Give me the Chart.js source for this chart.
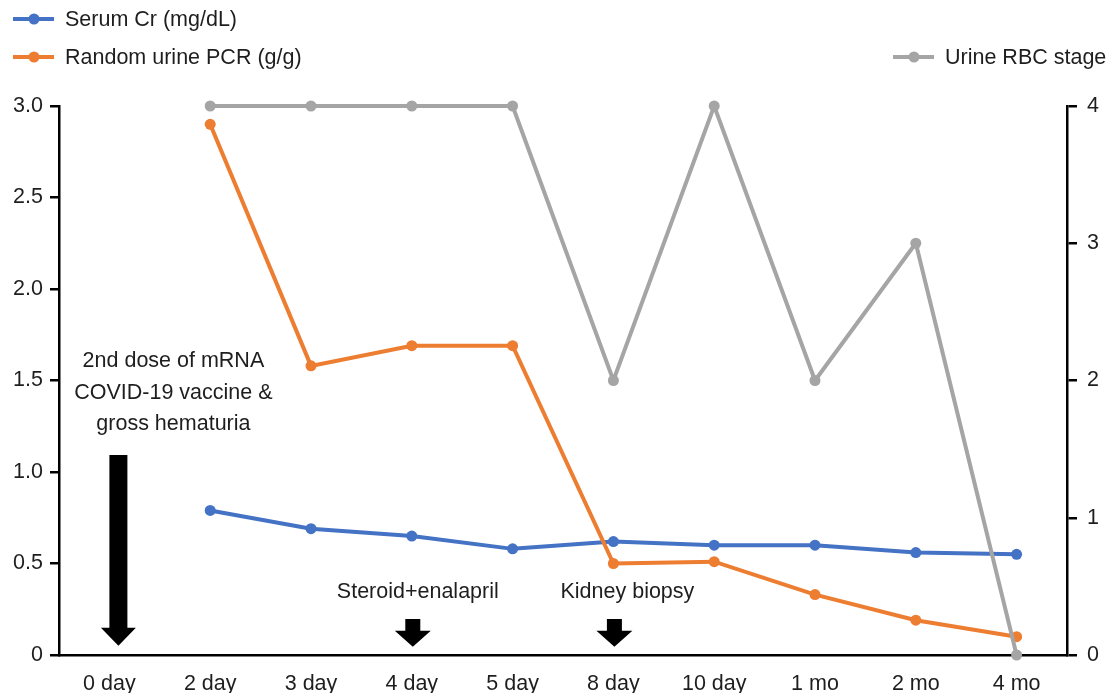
<!DOCTYPE html>
<html>
<head>
<meta charset="utf-8">
<script src="https://cdn.jsdelivr.net/npm/chart.js@4"></script>
<style>
  html, body { margin: 0; padding: 0; background: #fff; }
  #wrap { width: 1107px; height: 693px; }
</style>
</head>
<body>
<div id="wrap"><canvas id="chart"></canvas></div>
<script>
// Data
const categories = ['0 day', '2 day', '3 day', '4 day', '5 day', '8 day', '10 day', '1 mo', '2 mo', '4 mo'];
const serumCr = [null, 0.79, 0.69, 0.65, 0.58, 0.62, 0.60, 0.60, 0.56, 0.55];
const urinePcr = [null, 2.90, 1.58, 1.69, 1.69, 0.50, 0.51, 0.33, 0.19, 0.10];
const urineRbc = [null, 4, 4, 4, 4, 2, 4, 2, 3, 0];
const leftTicks = [0, 0.5, 1.0, 1.5, 2.0, 2.5, 3.0];
const rightTicks = [0, 1, 2, 3, 4];

const FONT = 'Liberation Sans, Arial, sans-serif';
const TEXT = '#1e1e1e';
const BLUE = '#4472C4', ORANGE = '#ED7D31', GRAY = '#A5A5A5';

// Events drawn as arrows under the x axis
const events = [
    { cat: 0, big: true, lines: ['2nd dose of mRNA', 'COVID-19 vaccine &', 'gross hematuria'] },
    { cat: 3, big: false, lines: ['Steroid+enalapril'] },
    { cat: 5, big: false, lines: ['Kidney biopsy'] }
];

function drawArrow(ctx, cx, top, tip, shaftW, headW, headH) {
    ctx.beginPath();
    ctx.moveTo(cx - shaftW / 2, top);
    ctx.lineTo(cx + shaftW / 2, top);
    ctx.lineTo(cx + shaftW / 2, tip - headH);
    ctx.lineTo(cx + headW / 2, tip - headH);
    ctx.lineTo(cx, tip);
    ctx.lineTo(cx - headW / 2, tip - headH);
    ctx.lineTo(cx - shaftW / 2, tip - headH);
    ctx.closePath();
    ctx.fill();
}

const annotations = {
    id: 'annotations',
    afterDraw(chart) {
        const ctx = chart.ctx;
        const x = chart.scales.x;
        const y = chart.scales.y;
        ctx.save();
        ctx.font = `21.5px ${FONT}`;
        ctx.textAlign = 'center';
        ctx.textBaseline = 'middle';
        events.forEach(ev => {
            const cx = x.getPixelForValue(ev.cat);
            ctx.fillStyle = '#000';
            if (ev.big) {
                drawArrow(ctx, cx + 9, y.getPixelForValue(1.093), y.getPixelForValue(0.05), 18, 35, 18);
                ctx.fillStyle = TEXT;
                ev.lines.forEach((l, i) => {
                    ctx.fillText(l, cx + 64, y.getPixelForValue(1.606) + i * 31.5);
                });
            } else {
                drawArrow(ctx, cx + 1, y.getPixelForValue(0.197), y.getPixelForValue(0.045), 15, 36, 16);
                ctx.fillStyle = TEXT;
                ctx.fillText(ev.lines[0], cx + 6 + (ev.cat === 5 ? 8 : 0), y.getPixelForValue(0.345));
            }
        });

        // Legend
        const legend = [
            { label: 'Serum Cr (mg/dL)', color: BLUE, x: 13, y: 19 },
            { label: 'Random urine PCR (g/g)', color: ORANGE, x: 13, y: 57 },
            { label: 'Urine RBC stage', color: GRAY, x: 893, y: 57 }
        ];
        ctx.textAlign = 'left';
        legend.forEach(item => {
            ctx.strokeStyle = item.color;
            ctx.fillStyle = item.color;
            ctx.lineWidth = 4;
            ctx.beginPath();
            ctx.moveTo(item.x, item.y);
            ctx.lineTo(item.x + 41, item.y);
            ctx.stroke();
            ctx.beginPath();
            ctx.arc(item.x + 21, item.y, 5.5, 0, Math.PI * 2);
            ctx.fill();
            ctx.fillStyle = TEXT;
            ctx.fillText(item.label, item.x + 52, item.y + 1);
        });
        ctx.restore();
    }
};

function series(label, data, color, axis, order) {
    return {
        label, data, yAxisID: axis, order,
        borderColor: color, backgroundColor: color,
        borderWidth: 4, pointRadius: 5.5, pointHoverRadius: 5.5,
        pointBorderWidth: 0, tension: 0, clip: false, spanGaps: true
    };
}

new Chart(document.getElementById('chart'), {
    type: 'line',
    data: {
        labels: categories,
        datasets: [
            series('Serum Cr (mg/dL)', serumCr, BLUE, 'y', 3),
            series('Random urine PCR (g/g)', urinePcr, ORANGE, 'y', 2),
            series('Urine RBC stage', urineRbc, GRAY, 'y1', 1)
        ]
    },
    options: {
        responsive: true,
        maintainAspectRatio: false,
        animation: false,
        layout: { padding: { top: 106, left: 0, right: 0, bottom: 0 } },
        plugins: { legend: { display: false }, tooltip: { enabled: false } },
        scales: {
            x: {
                offset: true,
                grid: { display: false },
                border: { display: true, color: '#000', width: 2.5 },
                ticks: { color: TEXT, font: { family: FONT, size: 21.5 }, padding: 8, maxRotation: 0 },
                afterFit: s => { s.height = 38; }
            },
            y: {
                position: 'left',
                min: 0, max: 3,
                afterBuildTicks: s => { s.ticks = leftTicks.map(v => ({ value: v })); },
                grid: { drawOnChartArea: false, drawTicks: true, tickLength: 9, color: '#000', lineWidth: 2.5 },
                border: { display: true, color: '#000', width: 2.5 },
                ticks: {
                    color: TEXT, font: { family: FONT, size: 21.5 }, padding: 7,
                    callback: v => v === 0 ? '0' : Number(v).toFixed(1)
                },
                afterFit: s => { s.width = 59; }
            },
            y1: {
                position: 'right',
                min: 0, max: 4,
                afterBuildTicks: s => { s.ticks = rightTicks.map(v => ({ value: v })); },
                grid: { drawOnChartArea: false, drawTicks: true, tickLength: 10, color: '#000', lineWidth: 2.5 },
                border: { display: true, color: '#000', width: 2.5 },
                ticks: { color: TEXT, font: { family: FONT, size: 21.5 }, padding: 10 },
                afterFit: s => { s.width = 40; }
            }
        }
    },
    plugins: [annotations]
});
</script>
</body>
</html>
